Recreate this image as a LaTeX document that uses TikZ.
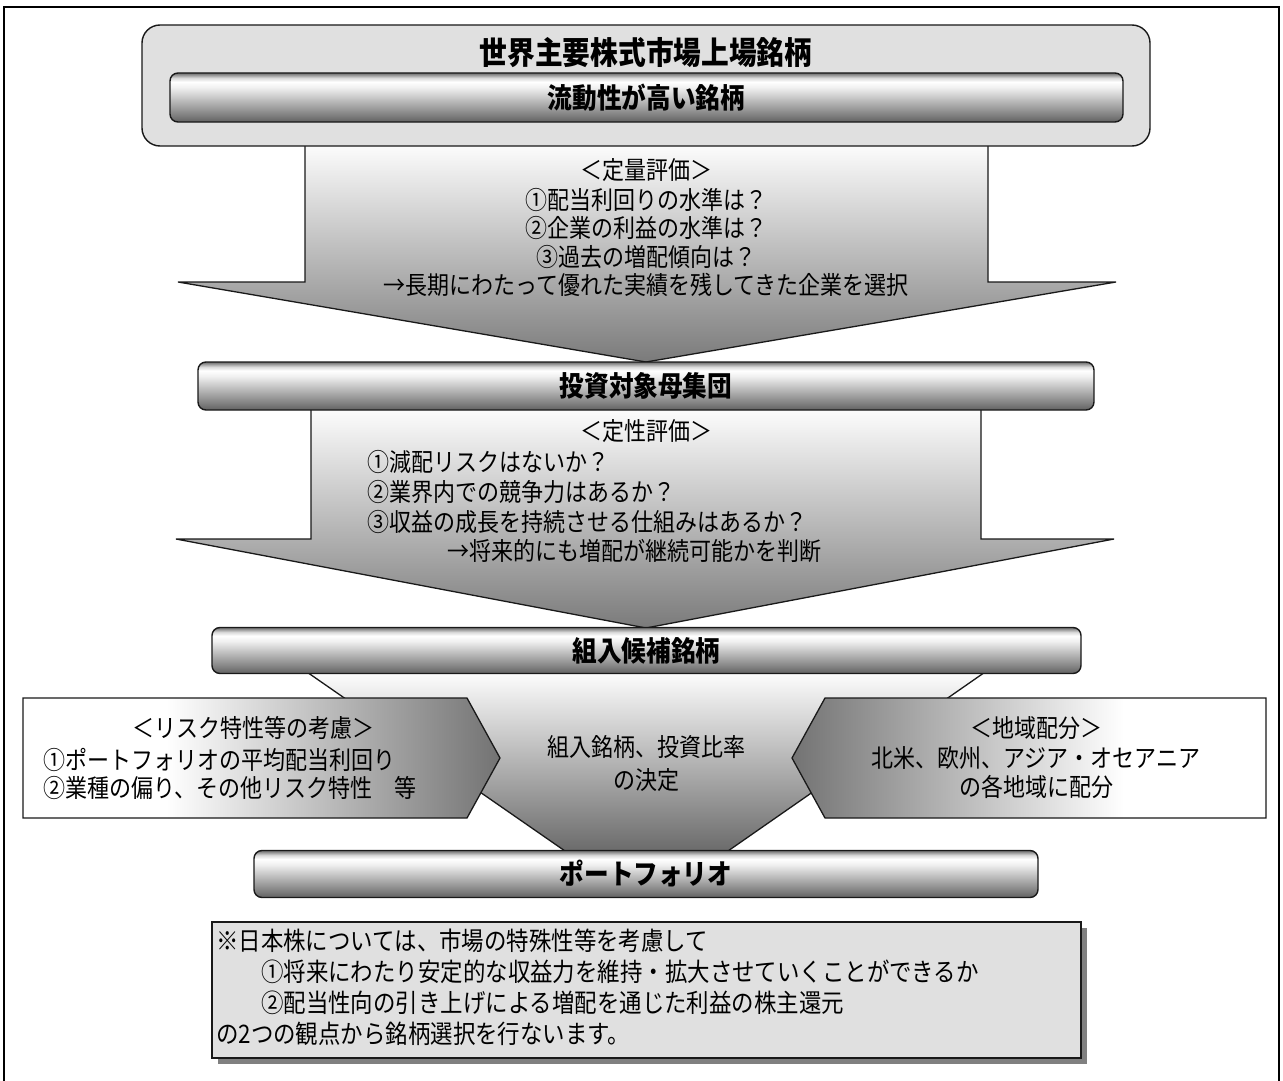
\documentclass[tikz,border=0pt]{standalone}
\usepackage{fontspec}
\newfontfamily\jp[FakeStretch=0.88]{Noto Sans CJK JP}
\usetikzlibrary{shadows}
\pgfdeclareverticalshading{barshade}{100bp}{color(0bp)=(black!62); color(25bp)=(black!62); color(32bp)=(black!50); color(60bp)=(black!6); color(66bp)=(white); color(70bp)=(black!15); color(75bp)=(black!58); color(100bp)=(black!58)}
\pgfdeclarehorizontalshading{lpent}{100bp}{color(0bp)=(white); color(25bp)=(white); color(40bp)=(white); color(75bp)=(black!55); color(100bp)=(black!55)}
\pgfdeclarehorizontalshading{rpent}{100bp}{color(0bp)=(black!55); color(25bp)=(black!55); color(60bp)=(white); color(75bp)=(white); color(100bp)=(white)}
\begin{document}
\begin{tikzpicture}[x=1pt,y=-1pt,
  bar/.style={draw=black!90, line width=1.4pt, rounded corners=8pt, shading=barshade, inner sep=0pt,
    font=\jp\bfseries\fontsize{28}{30}\selectfont},
  funnel/.style={draw=black!90, line width=1.3pt, top color=white, bottom color=black!52},
  pent/.style={draw=black!90, line width=1.3pt},
  txt/.style={font=\jp\fontsize{25}{28}\selectfont, inner sep=0pt},
  ntxt/.style={font=\jp\fontsize{25.5}{28}\selectfont, inner sep=0pt, anchor=west}]
\useasboundingbox (0,0) rectangle (1283,1081);
\fill[white] (0,0) rectangle (1283,1081);
% frame
\draw[line width=2.2pt, black] (4,1085) -- (4,7) -- (1279,7) -- (1279,1085);
% arrow 1
\draw[funnel] (305,140) -- (305,282) -- (178,282) -- (646,362) -- (1116,282) -- (988,282) -- (988,140) -- cycle;
% top box
\node[draw=black!90, line width=1.4pt, fill=black!12, rounded corners=18pt, minimum width=1008pt, minimum height=121pt, inner sep=0pt] (top) at (646,85.5) {};
\node[font=\jp\bfseries\fontsize{31.5}{34}\selectfont, inner sep=0pt] (title) at (646,53) {世界主要株式市場上場銘柄};
\node[bar, minimum width=953pt, minimum height=49pt] (liq) at (646.5,97.5) {流動性が高い銘柄};
% section 1 text
\node[txt] (q0) at (646,170) {＜定量評価＞};
\node[txt] (q1) at (646,200) {①配当利回りの水準は？};
\node[txt] (q2) at (646,228) {②企業の利益の水準は？};
\node[txt] (q3) at (646,257) {③過去の増配傾向は？};
\node[txt] (q4) at (646,285) {→長期にわたって優れた実績を残してきた企業を選択};
% arrow 2
\draw[funnel] (311,405) -- (311,539) -- (176,539) -- (646,628) -- (1114,539) -- (981,539) -- (981,405) -- cycle;
\node[bar, minimum width=896pt, minimum height=48pt] (pop) at (646,386) {投資対象母集団};
% section 2 text
\node[txt] (s0) at (646,431) {＜定性評価＞};
\node[txt, anchor=west] (s1) at (367,462) {①減配リスクはないか？};
\node[txt, anchor=west] (s2) at (367,492) {②業界内での競争力はあるか？};
\node[txt, anchor=west] (s3) at (367,522) {③収益の成長を持続させる仕組みはあるか？};
\node[txt, anchor=west] (s4) at (447,551) {→将来的にも増配が継続可能かを判断};
% bottom funnel
\draw[draw=black!90, line width=1.3pt, top color=white, bottom color=black!58] (304,670) -- (988,670) -- (728,851) -- (565,851) -- cycle;
\node[bar, minimum width=869pt, minimum height=46pt] (cand) at (646.5,650.5) {組入候補銘柄};
% pentagons
\draw[pent, shading=lpent] (23,698) -- (467,698) -- (500,758) -- (467,818) -- (23,818) -- cycle;
\draw[pent, shading=rpent] (1266,698) -- (825,698) -- (792,758) -- (825,818) -- (1266,818) -- cycle;
\node[txt] (r0) at (253,728) {＜リスク特性等の考慮＞};
\node[txt, anchor=west] (r1) at (43,760) {①ポートフォリオの平均配当利回り};
\node[txt, anchor=west] (r2) at (43,788) {②業種の偏り、その他リスク特性　等};
\node[txt] (m1) at (646,747) {組入銘柄、投資比率};
\node[txt] (m2) at (646,780) {の決定};
\node[txt] (g0) at (1036,728) {＜地域配分＞};
\node[txt] (g1) at (1036,758) {北米、欧州、アジア・オセアニア};
\node[txt] (g2) at (1036,787) {の各地域に配分};
\node[bar, minimum width=784pt, minimum height=47pt] (pf) at (646,874) {ポートフォリオ};
% note box
\node[draw=black!90, line width=1.4pt, fill=black!12, minimum width=869pt, minimum height=136pt, inner sep=0pt,
  drop shadow={shadow xshift=6pt, shadow yshift=-6pt, fill=black!50, opacity=1}] (note) at (646.5,990) {};
\node[ntxt] (n1) at (216,941) {※日本株については、市場の特殊性等を考慮して};
\node[ntxt] (n2) at (261,972) {①将来にわたり安定的な収益力を維持・拡大させていくことができるか};
\node[ntxt] (n3) at (261,1003) {②配当性向の引き上げによる増配を通じた利益の株主還元};
\node[ntxt] (n4) at (216,1034) {の2つの観点から銘柄選択を行ないます。};
\end{tikzpicture}
\end{document}
